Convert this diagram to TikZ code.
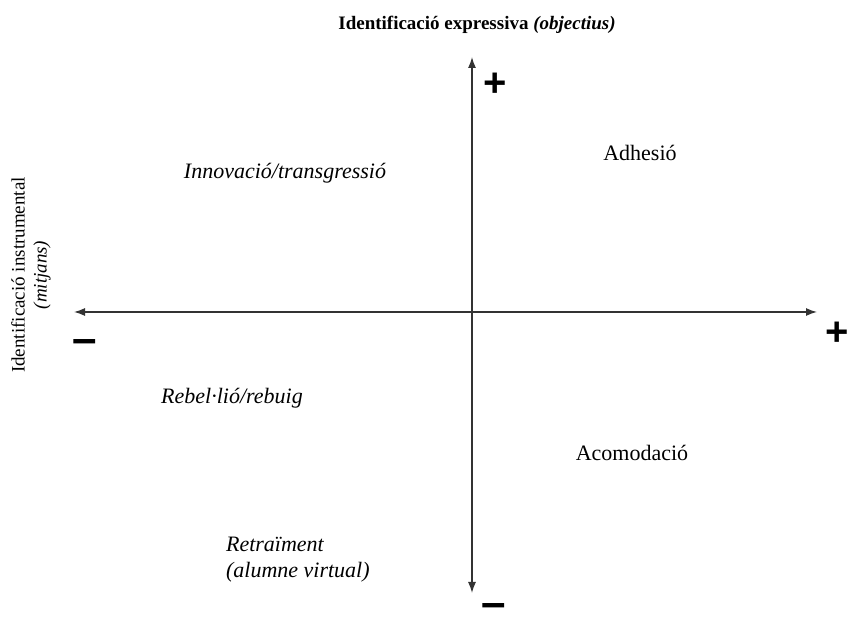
\documentclass[tikz,border=0pt]{standalone}
\usepackage{fontspec}
\setmainfont{Liberation Serif}
\newfontfamily\signfont{Liberation Sans}
\usetikzlibrary{arrows.meta}

\tikzset{
  quadlabel/.style={font=\fontsize{11}{13}\selectfont, align=left},
  signlabel/.style={font=\signfont\bfseries\fontsize{20}{24}\selectfont, inner sep=0pt},
  minuslabel/.style={signlabel, font=\signfont\bfseries\fontsize{22}{24}\selectfont, anchor=base},
  axisline/.style={line width=0.65pt, black!80, {Latex[length=5.5pt,width=4pt]}-{Latex[length=5.5pt,width=4pt]}},
}

\begin{document}
\begin{tikzpicture}[x=0.5pt,y=0.5pt]
  \useasboundingbox (0,0) rectangle (847,626);

  % End points of the two axes
  \coordinate (T) at (472,569); % top
  \coordinate (D) at (472,33);  % bottom
  \coordinate (L) at (74,314);  % left
  \coordinate (R) at (817,314); % right

  % Draw axes
  \draw[axisline] (D) -- (T);
  \draw[axisline] (L) -- (R);

  % Signs at the ends
  \node[signlabel] (Tplus) at (495,541) {+};
  \node[signlabel] (Rplus) at (837,292) {+};
  \node[minuslabel] (Lminus) at (85,272) {–};
  \node[minuslabel] (Dminus) at (494,8) {–};

  % Axis titles
  \node[font=\fontsize{9.5}{11}\selectfont] (title) at (477,601)
    {\textbf{Identificació expressiva \textit{(objectius)}}};
  \node[font=\fontsize{9.5}{11}\selectfont, align=center, rotate=90] (side) at (31,351)
    {Identificació instrumental\\\textit{(mitjans)}};

  % Quadrant labels
  \node[quadlabel] (innov) at (285,453) {\textit{Innovació/transgressió}};
  \node[quadlabel] (adhes) at (640,473) {Adhesió};
  \node[quadlabel] (rebel) at (232,228) {\textit{Rebel·lió/rebuig}};
  \node[quadlabel] (acomo) at (632,173) {Acomodació};
  \node[quadlabel, anchor=west] (retra) at (219,66)
    {\textit{Retraïment}\\\textit{(alumne virtual)}};

\end{tikzpicture}
\end{document}
